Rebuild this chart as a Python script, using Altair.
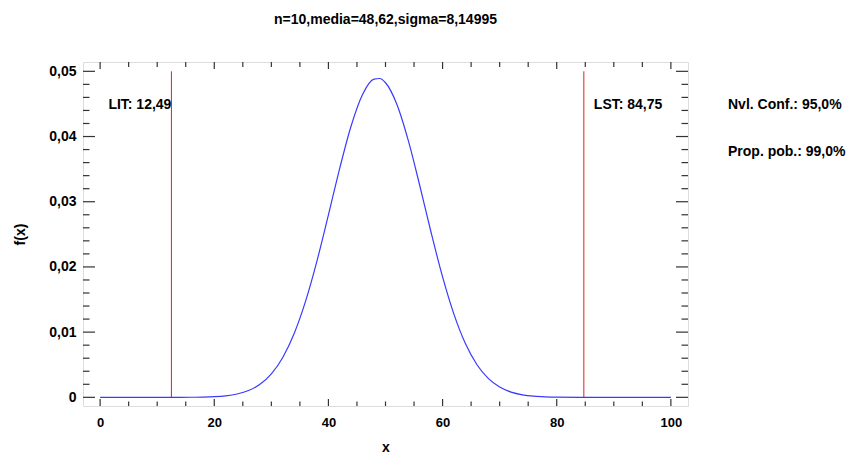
import altair as alt
import pandas as pd

# Density curve of the fitted normal (x, f(x))
curve_x = [0, 10, 14, 16, 18, 20, 22, 24, 26, 28, 30, 32, 34, 36, 38, 40, 42, 44, 46,
           48, 49, 50, 52, 54, 56, 58, 60, 62, 64, 66, 68, 70, 72, 74, 76, 78, 80,
           84, 90, 100]
curve_y = [0.0, 0.0, 0.000005, 0.000015, 0.000042, 0.000103, 0.000236, 0.000511,
           0.00104, 0.001993, 0.0036, 0.00612, 0.009796, 0.014759, 0.020941, 0.02798,
           0.0352, 0.04169, 0.04649, 0.04881, 0.0489, 0.04825, 0.04492, 0.03937,
           0.03249, 0.02524, 0.01847, 0.01272, 0.00825, 0.00504, 0.0029, 0.001568,
           0.0008, 0.000384, 0.000173, 0.000074, 0.00003, 0.0, 0.0, 0.0]

# Tolerance limits
limit_x = [12.49, 84.75]
limit_bottom = [0.0, 0.0]
limit_top = [0.05, 0.05]
limit_labels = ["LIT: 12,49", "LST: 84,75"]

# Axis tick positions
x_major = [0, 20, 40, 60, 80, 100]
x_minor = [5, 10, 15, 25, 30, 35, 45, 50, 55, 65, 70, 75, 85, 90, 95]
y_major = [0.0, 0.01, 0.02, 0.03, 0.04, 0.05]
y_minor = [0.002, 0.004, 0.006, 0.008, 0.012, 0.014, 0.016, 0.018,
           0.022, 0.024, 0.026, 0.028, 0.032, 0.034, 0.036, 0.038,
           0.042, 0.044, 0.046, 0.048]

side_notes = ["Nvl. Conf.: 95,0%", "Prop. pob.: 99,0%"]
title_text = "n=10,media=48,62,sigma=8,14995"

FONT = "Liberation Sans, Arial, sans-serif"
W, H = 605, 344

x_scale = alt.Scale(domain=[-3, 103], nice=False, zero=False)
y_scale = alt.Scale(domain=[-0.00133, 0.05143], nice=False, zero=False)

x_axis = alt.Axis(values=x_major, ticks=False, domain=False, grid=False,
                  labelPadding=10, labelFontSize=13, labelFont=FONT,
                  labelFontWeight="bold", labelColor="black",
                  title="x", titleFont=FONT, titleFontSize=14, titleFontWeight="bold",
                  titleY=41, titleBaseline="middle", titleColor="black")
y_axis = alt.Axis(values=y_major, ticks=False, domain=False, grid=False,
                  labelPadding=7, labelFontSize=14, labelFont=FONT,
                  labelFontWeight="bold", labelColor="black",
                  labelExpr="datum.value == 0 ? '0' : replace(format(datum.value, '.2f'), '.', ',')",
                  title="f(x)", titleFont=FONT, titleFontSize=14, titleFontWeight="bold",
                  titleX=-63, titleY=H / 2, titleAlign="center", titleBaseline="middle",
                  titleColor="black")

curve_df = pd.DataFrame({"x": curve_x, "y": curve_y})
curve = alt.Chart(curve_df).mark_line(color="#3a3aff", strokeWidth=1.2,
                                      interpolate="monotone").encode(
    x=alt.X("x:Q", scale=x_scale, axis=x_axis),
    y=alt.Y("y:Q", scale=y_scale, axis=y_axis),
)

limits_df = pd.DataFrame({"x": limit_x, "bottom": limit_bottom, "top": limit_top,
                          "label": limit_labels})
limit_rules = alt.Chart(limits_df).mark_rule(color="#e02020", strokeWidth=1).encode(
    x=alt.X("x:Q", scale=x_scale, axis=x_axis),
    y=alt.Y("bottom:Q", scale=y_scale, axis=y_axis),
    y2="top:Q",
)

text_style = dict(font=FONT, fontSize=14, fontWeight="bold", color="black",
                  baseline="middle")
lit_text = alt.Chart(limits_df.iloc[[0]]).mark_text(align="right", dx=0, **text_style).encode(
    x=alt.X("x:Q", scale=x_scale, axis=x_axis),
    y=alt.value(43),
    text="label:N",
)
lst_text = alt.Chart(limits_df.iloc[[1]]).mark_text(align="left", dx=10, **text_style).encode(
    x=alt.X("x:Q", scale=x_scale, axis=x_axis),
    y=alt.value(43),
    text="label:N",
)

note1 = alt.Chart(pd.DataFrame({"t": [side_notes[0]]})).mark_text(align="left", **text_style).encode(
    x=alt.value(645), y=alt.value(43), text="t:N")
note2 = alt.Chart(pd.DataFrame({"t": [side_notes[1]]})).mark_text(align="left", **text_style).encode(
    x=alt.value(645), y=alt.value(90), text="t:N")

TICK = "#333333"


def x_ticks(vals, y0, y1):
    return alt.Chart(pd.DataFrame({"x": vals})).mark_rule(color=TICK, strokeWidth=1.2).encode(
        x=alt.X("x:Q", scale=x_scale, axis=x_axis), y=alt.value(y0), y2=alt.value(y1))


def y_ticks(vals, x0, x1):
    return alt.Chart(pd.DataFrame({"y": vals})).mark_rule(color=TICK, strokeWidth=1.2).encode(
        y=alt.Y("y:Q", scale=y_scale, axis=y_axis), x=alt.value(x0), x2=alt.value(x1))


ticks = [
    x_ticks(x_major, H, H - 7), x_ticks(x_minor, H, H - 4.5),
    x_ticks(x_major, 0, 7), x_ticks(x_minor, 0, 5),
    y_ticks(y_major, 0, 12), y_ticks(y_minor, 0, 6.5),
    y_ticks(y_major, W, W - 12), y_ticks(y_minor, W, W - 6.5),
]

chart = alt.layer(
    *ticks, limit_rules, curve, lit_text, lst_text, note1, note2
).properties(
    width=W, height=H,
    autosize=alt.AutoSizeParams(type="none"),
    padding={"left": 83, "top": 62, "right": 169, "bottom": 47},
    title=alt.TitleParams(title_text, anchor="middle", offset=34, font=FONT,
                          fontSize=14, fontWeight="bold", color="black"),
).configure_view(
    stroke="#222222", strokeWidth=1.5
).configure(background="white")

chart.save("out.html", embed_options={"renderer": "svg", "actions": False})
